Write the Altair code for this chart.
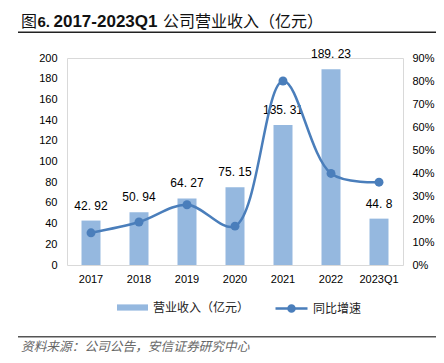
import altair as alt
import pandas as pd

categories = ["2017", "2018", "2019", "2020", "2021", "2022", "2023Q1"]
revenue = [42.92, 50.94, 64.27, 75.15, 135.31, 189.23, 44.8]
growth = [0.14, 0.187, 0.262, 0.169, 0.80, 0.398, 0.36]
left_ticks = [0, 20, 40, 60, 80, 100, 120, 140, 160, 180, 200]
right_ticks = [0.0, 0.1, 0.2, 0.3, 0.4, 0.5, 0.6, 0.7, 0.8, 0.9]
bar_name = "营业收入（亿元）"
line_name = "同比增速"
title_parts = ["图", "6.", "2017-2023Q1", "公司营业收入（亿元）"]
source_text = "资料来源：公司公告，安信证券研究中心"

BAR_COLOR = "#95B8DF"
LINE_COLOR = "#4A7EBB"

df = pd.DataFrame({
    "cat": categories,
    "rev": revenue,
    "growth": growth,
    "label": [f"{v:g}".replace(".", ". ") for v in revenue],
    "s1": [bar_name] * len(categories),
    "s2": [line_name] * len(categories),
})

x_enc = alt.X(
    "cat:N", sort=categories, title=None,
    scale=alt.Scale(paddingInner=0, paddingOuter=0),
    axis=alt.Axis(labelAngle=0, labelPadding=8, ticks=False, domain=False),
)
base = alt.Chart(df).encode(x=x_enc)

left_axis = alt.Axis(values=left_ticks, labelPadding=10, ticks=False, domain=False,
                     grid=False, labelOverlap=False, labelFlush=False, labelBound=False)
right_axis = alt.Axis(orient="right", format=".0%", values=right_ticks,
                      labelPadding=9, ticks=False, domain=False, grid=False,
                      labelOverlap=False, labelFlush=False, labelBound=False)
left_scale = alt.Scale(domain=[0, 200], nice=False)
right_scale = alt.Scale(domain=[0, 0.9], nice=False)

bars = base.mark_bar(size=19).encode(
    y=alt.Y("rev:Q", title=None, scale=left_scale, axis=left_axis),
    fill=alt.Fill("s1:N", scale=alt.Scale(domain=[bar_name], range=[BAR_COLOR]),
                  legend=alt.Legend(title=None, orient="none", legendX=50, legendY=234,
                                    symbolType="M-1,-0.2H1V0.2H-1Z", symbolSize=961,
                                    symbolStrokeWidth=0, labelFontSize=12, labelOffset=5,
                                    labelFont="Noto Sans CJK SC", labelColor="#222")),
)
labels = base.mark_text(baseline="middle", dy=-15, fontSize=12, font="Liberation Sans", color="#000").encode(
    y=alt.Y("rev:Q", title=None, scale=left_scale, axis=left_axis), text="label:N"
)

line = base.mark_line(interpolate="catmull-rom", strokeWidth=2.5).encode(
    y=alt.Y("growth:Q", title=None, scale=right_scale, axis=right_axis),
    stroke=alt.Stroke("s2:N", scale=alt.Scale(domain=[line_name], range=[LINE_COLOR]),
                      legend=alt.Legend(title=None, orient="none", legendX=207, legendY=233,
                                        symbolType="M-1,0H1M0.19,0A0.19,0.19,0,1,1,-0.19,0A0.19,0.19,0,1,1,0.19,0Z",
                                        symbolSize=1024, symbolStrokeWidth=2.5,
                                        symbolFillColor=LINE_COLOR, labelFontSize=12, labelOffset=4,
                                        labelFont="Noto Sans CJK SC", labelColor="#222")),
)
points = base.mark_point(filled=True, size=80, color=LINE_COLOR, opacity=1).encode(
    y=alt.Y("growth:Q", title=None, scale=right_scale, axis=right_axis)
)

deco = pd.DataFrame({"a": [0]})
top_rule = alt.Chart(deco).mark_rule(color="#222", strokeWidth=1.5).encode(
    x=alt.value(-49), x2=alt.value(369), y=alt.value(-25.7)
)
bottom_rule = alt.Chart(deco).mark_rule(color="#555", strokeWidth=1.5).encode(
    x=alt.value(-49), x2=alt.value(369), y=alt.value(278.7)
)
source = alt.Chart(deco).mark_text(
    align="left", baseline="middle", fontSize=12.7, fontStyle="italic",
    font="Noto Sans CJK SC", color="#666"
).encode(x=alt.value(-46), y=alt.value(289), text=alt.value(source_text))

title_y = -36
t1 = alt.Chart(deco).mark_text(align="left", baseline="middle", fontSize=16,
                               font="Noto Sans CJK SC", color="#111").encode(
    x=alt.value(-46), y=alt.value(title_y), text=alt.value(title_parts[0]))
t2 = alt.Chart(deco).mark_text(align="left", baseline="middle", fontSize=15, fontWeight="bold",
                               font="Liberation Sans", color="#111").encode(
    x=alt.value(-29.5), y=alt.value(title_y), text=alt.value(title_parts[1]))
t3 = alt.Chart(deco).mark_text(align="left", baseline="middle", fontSize=17, fontWeight="bold",
                               font="Liberation Sans", color="#111").encode(
    x=alt.value(-13.5), y=alt.value(title_y), text=alt.value(title_parts[2]))
t4 = alt.Chart(deco).mark_text(align="left", baseline="middle", fontSize=16,
                               font="Noto Sans CJK SC", color="#111").encode(
    x=alt.value(96), y=alt.value(title_y), text=alt.value(title_parts[3]))

chart = alt.layer(
    alt.layer(bars, labels),
    alt.layer(line, points),
    top_rule, bottom_rule, source, t1, t2, t3, t4,
).resolve_scale(y="independent").properties(
    width=336, height=207,
    autosize=alt.AutoSizeParams(type="none"),
    padding={"left": 59, "top": 50, "right": 33, "bottom": 90},
).configure_view(stroke="#D9D9D9", strokeWidth=1).configure_axis(
    labelFont="Liberation Sans", labelFontSize=11, labelColor="#000", labelOverlap=False
)

chart.save("out.html", embed_options={"renderer": "svg", "actions": False})
